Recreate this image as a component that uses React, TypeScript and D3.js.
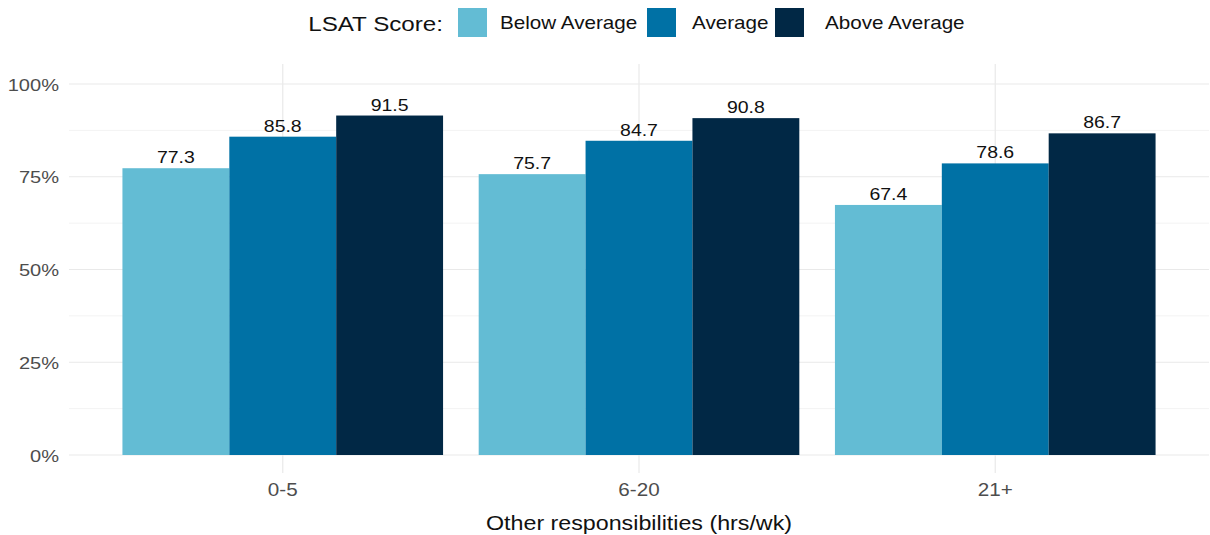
import * as d3 from 'd3';

const categories = ['0-5', '6-20', '21+'];
const seriesNames = ['Below Average', 'Average', 'Above Average'];
const belowAverage = [77.3, 75.7, 67.4];
const average = [85.8, 84.7, 78.6];
const aboveAverage = [91.5, 90.8, 86.7];
const yTicks = [0, 0.25, 0.5, 0.75, 1];
const yMinorTicks = [0.125, 0.375, 0.625, 0.875];

const colors = ['#63bcd4', '#0071a5', '#012845'];
const font = "'Liberation Sans', Arial, sans-serif";

const W = 1210;
const H = 535;
const panel = { left: 69, right: 1209, top: 64, bottom: 473 };
// the reference looks a bit stretched horizontally, so text gets widened too
const SX = 1.18;

type TProps = {
  x: number;
  y: number;
  size: number;
  anchor?: 'start' | 'middle' | 'end';
  fill?: string;
  children: React.ReactNode;
};

const T = ({ x, y, size, anchor = 'start', fill = '#111', children }: TProps) => (
  <text transform={`translate(${x},${y}) scale(${SX},1)`} textAnchor={anchor} fontSize={size} fill={fill}>
    {children}
  </text>
);

const App = () => {
  const series = [belowAverage, average, aboveAverage];

  // ggplot-like discrete expansion: 0.6 units each side
  const x0 = d3.scaleBand<string>()
    .domain(categories)
    .range([panel.left, panel.right])
    .paddingInner(0.1)
    .paddingOuter(0.15);

  const x1 = d3.scaleBand<string>()
    .domain(seriesNames)
    .range([0, x0.bandwidth()]);

  const y = d3.scaleLinear().domain([0, 1]).range([455, 84]);

  // legend layout (x positions of swatches / labels)
  const legendItems = [
    { sw: 458, tx: 500 },
    { sw: 647, tx: 692 },
    { sw: 775, tx: 825 },
  ];

  return (
    <svg width={W} height={H} style={{ position: 'absolute', left: 0, top: 0, background: '#fff' }} fontFamily={font}>
      {/* minor grid */}
      {yMinorTicks.map(t => (
        <line key={`m${t}`} x1={panel.left} x2={panel.right} y1={y(t)} y2={y(t)} stroke="#f3f3f3" strokeWidth={1} />
      ))}
      {/* major grid */}
      {yTicks.map(t => (
        <line key={`g${t}`} x1={panel.left} x2={panel.right} y1={y(t)} y2={y(t)} stroke="#e9e9e9" strokeWidth={1.2} />
      ))}
      {categories.map(c => {
        const cx = (x0(c) ?? 0) + x0.bandwidth() / 2;
        return <line key={`v${c}`} x1={cx} x2={cx} y1={panel.top} y2={panel.bottom} stroke="#e9e9e9" strokeWidth={1.2} />;
      })}

      {/* bars */}
      {categories.map((c, i) => (
        <g key={c} transform={`translate(${x0(c)},0)`}>
          {seriesNames.map((s, j) => {
            const v = series[j][i] / 100;
            return (
              <g key={s}>
                <rect
                  x={x1(s)}
                  y={y(v)}
                  width={x1.bandwidth()}
                  height={y(0) - y(v)}
                  fill={colors[j]}
                />
                <T x={(x1(s) ?? 0) + x1.bandwidth() / 2} y={y(v) - 5} size={16.5} anchor="middle">
                  {series[j][i].toFixed(1)}
                </T>
              </g>
            );
          })}
        </g>
      ))}

      {/* y axis labels */}
      {yTicks.map(t => (
        <T key={`yt${t}`} x={59} y={y(t) + 6.5} size={17} anchor="end" fill="#4d4d4d">
          {d3.format('.0%')(t)}
        </T>
      ))}

      {/* x axis labels */}
      {categories.map(c => (
        <T key={`xt${c}`} x={(x0(c) ?? 0) + x0.bandwidth() / 2} y={496} size={17.5} anchor="middle" fill="#4d4d4d">
          {c}
        </T>
      ))}

      <T x={(panel.left + panel.right) / 2} y={530} size={19.7} anchor="middle">
        Other responsibilities (hrs/wk)
      </T>

      {/* legend */}
      <T x={443} y={31} size={20.5} anchor="end">LSAT Score:</T>
      {seriesNames.map((s, j) => (
        <g key={`lg${s}`}>
          <rect x={legendItems[j].sw} y={8} width={29} height={29} fill={colors[j]} />
          <T x={legendItems[j].tx} y={29} size={17.5}>{s}</T>
        </g>
      ))}
    </svg>
  );
};

export default App;
